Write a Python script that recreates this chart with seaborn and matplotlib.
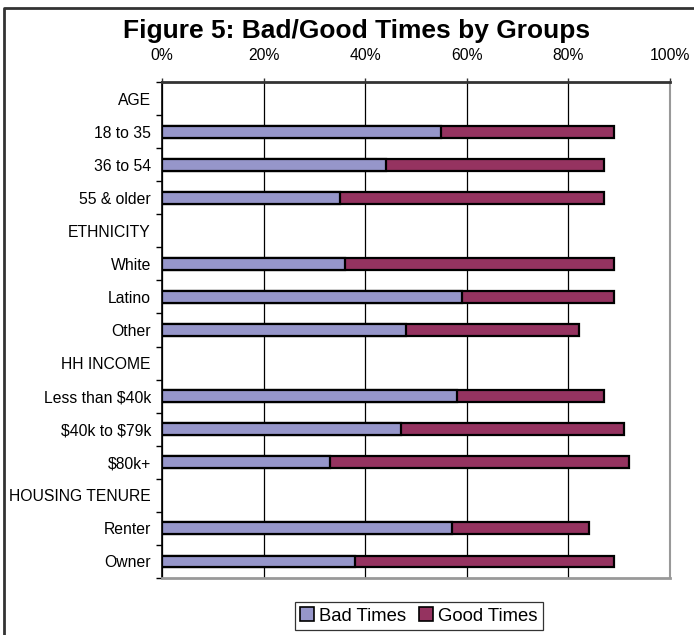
import matplotlib
matplotlib.use("Agg")
import matplotlib.pyplot as plt
from matplotlib.patches import Patch
from matplotlib.lines import Line2D
from matplotlib.ticker import FixedLocator, PercentFormatter
import seaborn as sns
import pandas as pd

# Row labels, top to bottom (section headers carry no bars)
rows = ["AGE", "18 to 35", "36 to 54", "55 & older",
        "ETHNICITY", "White", "Latino", "Other",
        "HH INCOME", "Less than $40k", "$40k to $79k", "$80k+",
        "HOUSING TENURE", "Renter", "Owner"]

groups = ["18 to 35", "36 to 54", "55 & older",
          "White", "Latino", "Other",
          "Less than $40k", "$40k to $79k", "$80k+",
          "Renter", "Owner"]
bad_times = [55, 44, 35, 36, 59, 48, 58, 47, 33, 57, 38]
good_times = [34, 43, 52, 53, 30, 34, 29, 44, 59, 27, 51]

bad_color = "#9696CA"
good_color = "#953360"

df = pd.DataFrame({"group": groups, "bad": bad_times, "good": good_times})
df["total"] = df["bad"] + df["good"]

sns.set_style("white")
plt.rcParams["font.family"] = ["Liberation Sans", "DejaVu Sans"]
plt.rcParams["text.parse_math"] = False
plt.rcParams["text.color"] = "black"
plt.rcParams["xtick.color"] = "black"
plt.rcParams["ytick.color"] = "black"

fig = plt.figure(figsize=(6.94, 6.35), dpi=100)
ax = fig.add_axes([162 / 694, 1 - 578 / 635, (670 - 162) / 694, (578 - 82) / 635])

bar_h = 0.36
sns.barplot(data=df, x="total", y="group", order=rows, orient="h",
            color=good_color, saturation=1, width=bar_h,
            edgecolor="black", linewidth=1.6, ax=ax, zorder=3)
sns.barplot(data=df, x="bad", y="group", order=rows, orient="h",
            color=bad_color, saturation=1, width=bar_h,
            edgecolor="black", linewidth=1.6, ax=ax, zorder=4)

ax.set_xlim(0, 100)
ax.set_ylim(len(rows) - 0.5, -0.5)
ax.set_xlabel("")
ax.set_ylabel("")

# percentage axis along the top
ax.xaxis.set_ticks_position("top")
ax.xaxis.set_label_position("top")
ax.set_xticks([0, 20, 40, 60, 80, 100])
ax.xaxis.set_major_formatter(PercentFormatter(decimals=0))
ax.tick_params(axis="x", which="major", top=True, bottom=False, length=3,
               width=1, color="#333333", labelsize=11.3, pad=10.5)
ax.grid(axis="x", color="black", linewidth=0.9, zorder=0)
ax.grid(axis="y", visible=False)

# category labels centred, tick marks between rows
ax.tick_params(axis="y", which="major", length=0, labelsize=11.3, pad=8)
ax.yaxis.set_minor_locator(FixedLocator([i - 0.5 for i in range(len(rows) + 1)]))
ax.tick_params(axis="y", which="minor", left=True, length=4, width=1, color="black")

for side, col, lw in [("left", "black", 1.2), ("top", "#333333", 2.0),
                      ("right", "#999999", 1.5), ("bottom", "#999999", 2.0)]:
    ax.spines[side].set_visible(True)
    ax.spines[side].set_color(col)
    ax.spines[side].set_linewidth(lw)

fig.text(357 / 694, 1 - 31 / 635, "Figure 5: Bad/Good Times by Groups",
         ha="center", va="center", fontsize=19, fontweight="bold")

handles = [Patch(facecolor=bad_color, edgecolor="black", linewidth=1.2),
           Patch(facecolor=good_color, edgecolor="black", linewidth=1.2)]
leg = fig.legend(handles, ["Bad Times", "Good Times"], loc="center",
                 bbox_to_anchor=(419 / 694, 1 - 616 / 635), ncol=2,
                 fontsize=13.3, frameon=True, fancybox=False,
                 handlelength=0.72, handleheight=0.72, handletextpad=0.3,
                 columnspacing=0.7, borderpad=0.28)
leg.get_frame().set_edgecolor("black")
leg.get_frame().set_linewidth(0.9)

# outer chart frame
fig.add_artist(Line2D([4 / 694, 4 / 694, 1.0], [0.0, 1 - 8 / 635, 1 - 8 / 635],
                      transform=fig.transFigure, color="#333333", linewidth=2))

fig.savefig("out.png", dpi=100)
